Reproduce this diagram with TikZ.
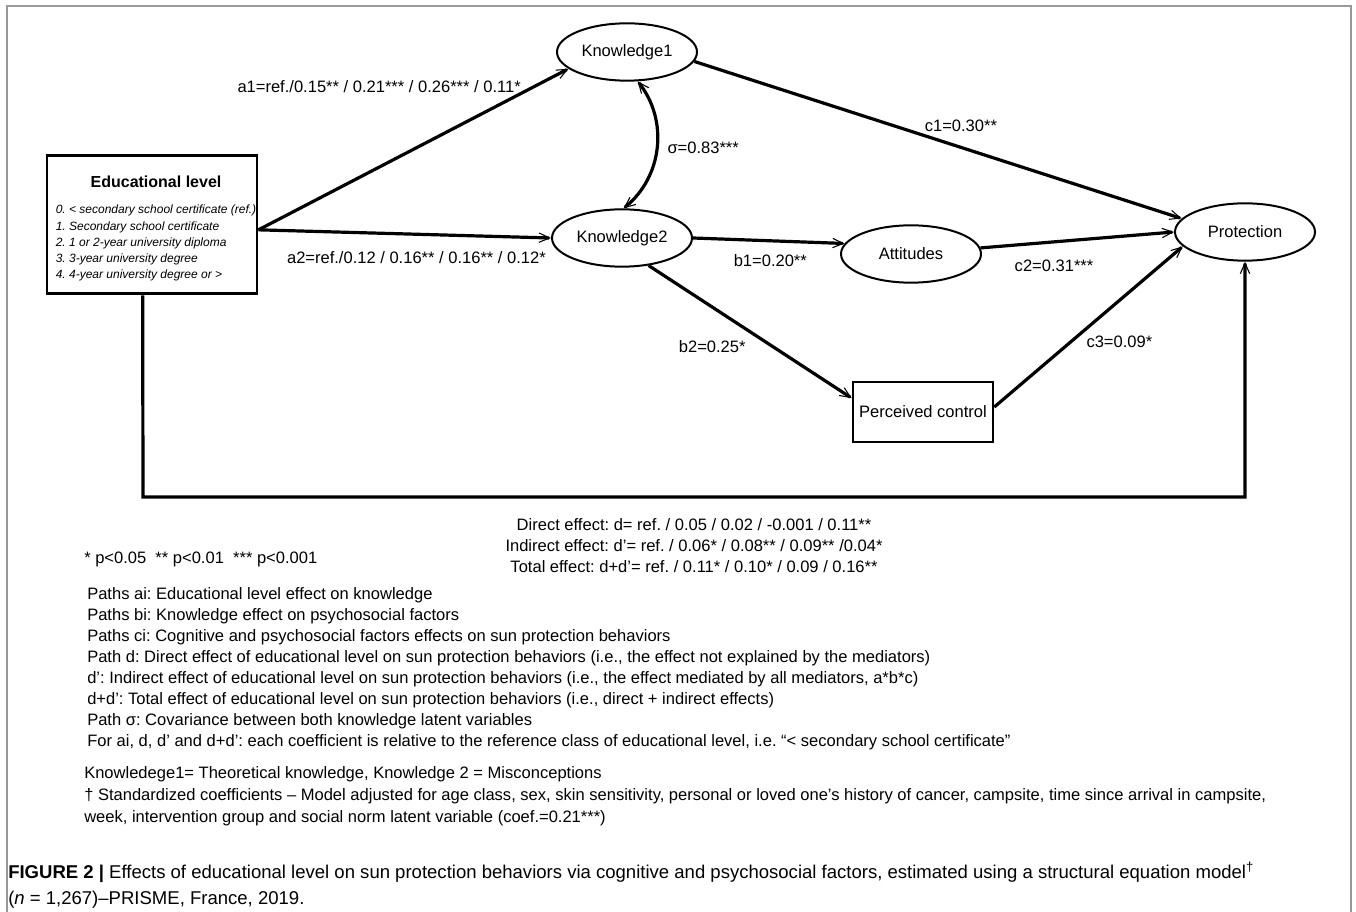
\documentclass[tikz,border=0pt]{standalone}
\usepackage{fontspec}
\setmainfont{Liberation Sans}
\usepackage{tikz}
\usetikzlibrary{arrows.meta, shapes.geometric}
\frenchspacing
\tikzset{%
  >={Straight Barb[length=8pt, width=7pt, line width'=0.8pt]},
  % Specifications for style of nodes:
      latent/.style = {ellipse, draw=black, line width=1.5pt,
                       minimum width=105pt, minimum height=43pt,
                       inner sep=0pt, font=\fontsize{12.4}{15}\selectfont},
    observed/.style = {rectangle, draw=black, line width=1.9pt,
                       minimum width=105pt, minimum height=45pt,
                       inner sep=0pt, font=\fontsize{12.4}{15}\selectfont},
      edubox/.style = {rectangle, draw=black, line width=2.2pt,
                       minimum width=157.5pt, minimum height=104pt,
                       inner sep=0pt, font=\itshape\fontsize{9}{12.2}\selectfont},
         lab/.style = {inner sep=0pt, text height=9pt, text depth=0pt,
                       font=\fontsize{12.4}{15}\selectfont},
       notes/.style = {inner sep=0pt, align=left, anchor=north west},
  % Specifications for style of paths:
      effect/.style = {->, draw=black, line width=2.4pt},
}

\begin{document}
\begin{tikzpicture}[x=0.75pt, y=-0.75pt]
  \useasboundingbox (0,0) rectangle (1356,912);
  \draw[black!40, line width=0.8pt] (7,912) -- (7,6) -- (1351,6) -- (1351,912);
  % Specification of nodes (position, etc.)
  \node (edu)  [edubox]   at (152,224.5) {%
    \begin{tabular}{@{\hspace{6pt}}l@{}}
      \multicolumn{1}{@{\hspace{6pt}}c@{}}{\rule{0pt}{17pt}\upshape\bfseries\fontsize{12}{14}\selectfont Educational level}\\[7.25pt]
      0. < secondary school certificate (ref.)\\
      1. Secondary school certificate\\
      2. 1 or 2-year university diploma\\
      3. 3-year university degree\\
      4. 4-year university degree or >
    \end{tabular}};
  \node (k1)   [latent]   at (627,52)   {Knowledge1};
  \node (k2)   [latent]   at (622,238)  {Knowledge2};
  \node (att)  [latent]   at (911,254)  {Attitudes};
  \node (prot) [latent]   at (1245,232) {Protection};
  \node (pc)   [observed] at (923,412)  {Perceived control};
  \coordinate (src)  at ([yshift=-4pt]edu.east);
  \coordinate (dout) at ([xshift=-7pt]edu.south);
  \coordinate (dlow) at (143,497);
  % Specification of lines between nodes specified above
  % with aditional nodes for the coefficients
  \draw[effect] (src) -- node[lab, pos=.89, left=9pt] {a1=ref./0.15** / 0.21*** / 0.26*** / 0.11*} (k1.196);
  \draw[effect] (src) -- node[lab, pos=.54, below=12pt] {a2=ref./0.12 / 0.16** / 0.16** / 0.12*} (k2.west);
  \draw[effect, <->] (k1.290) to[bend left=45] node[lab, pos=.5, right=6.75pt] {σ=0.83***} (k2.87);
  \draw[effect] (k1.352) -- node[lab, pos=.547, above=11pt] {c1=0.30**} (prot.168);
  \draw[effect] (k2.east) -- node[lab, pos=.51, below=9pt] {b1=0.20**} (att.171);
  \draw[effect] (att.5) -- node[lab, pos=.38, below=12pt] {c2=0.31***} (prot.west);
  \draw[effect] (k2.314) -- node[lab, pos=.61, left=19pt] {b2=0.25*} (pc.169);
  \draw[effect] (pc.4) -- node[lab, pos=.41, right=10pt] {c3=0.09*} (prot.193);
  \draw[effect] (dout) -- (dlow) -| node[pos=.25, below=15pt, inner sep=0pt, align=center,
      font=\fontsize{12.4}{15.75}\selectfont]
      {Direct effect: d= ref. / 0.05 / 0.02 / -0.001 / 0.11**\\
       Indirect effect: d'= ref. / 0.06* / 0.08** / 0.09** /0.04*\\
       Total effect: d+d'= ref. / 0.11* / 0.10* / 0.09 / 0.16**} (prot.south);
  % Notes under the model
  \node (sig) [lab, anchor=west] at (84,557) {* p<0.05\ \ ** p<0.01\ \ *** p<0.001};
  \node (paths) [notes, font=\fontsize{12.4}{15.75}\selectfont] at (87,587) {%
    Paths ai: Educational level effect on knowledge\\
    Paths bi: Knowledge effect on psychosocial factors\\
    Paths ci: Cognitive and psychosocial factors effects on sun protection behaviors\\
    Path d: Direct effect of educational level on sun protection behaviors (i.e., the effect not explained by the mediators)\\
    d': Indirect effect of educational level on sun protection behaviors (i.e., the effect mediated by all mediators, a*b*c)\\
    d+d': Total effect of educational level on sun protection behaviors (i.e., direct + indirect effects)\\
    Path σ: Covariance between both knowledge latent variables\\
    For ai, d, d' and d+d': each coefficient is relative to the reference class of educational level, i.e. “< secondary school certificate”};
  \node (legend) [notes, font=\fontsize{12.4}{16.5}\selectfont] at (84,766) {%
    Knowledege1= Theoretical knowledge, Knowledge 2 = Misconceptions\\
    † Standardized coefficients – Model adjusted for age class, sex, skin sensitivity, personal or loved one’s history of cancer, campsite, time since arrival in campsite,\\
    week, intervention group and social norm latent variable (coef.=0.21***)};
  \node (caption) [notes, font=\fontsize{13.9}{19.5}\selectfont] at (8,862) {%
    \textbf{FIGURE 2 |} Effects of educational level on sun protection behaviors via cognitive and psychosocial factors, estimated using a structural equation model\textsuperscript{†}\\
    (\textit{n} = 1,267)–PRISME, France, 2019.};
\end{tikzpicture}
\end{document}
